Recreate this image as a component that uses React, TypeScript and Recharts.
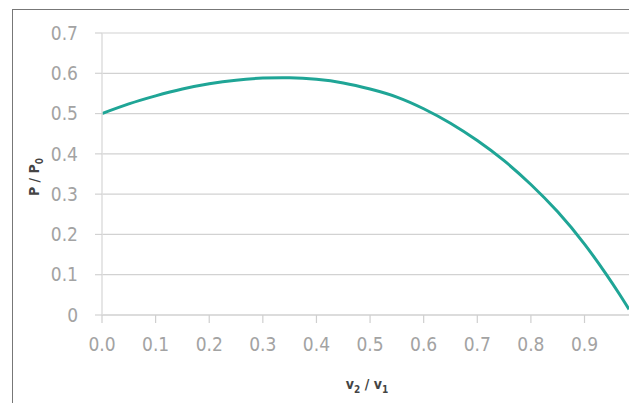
import React from 'react';
import { LineChart, Line, XAxis, YAxis, CartesianGrid } from 'recharts';

const speedRatio = [0, 0.05, 0.1, 0.15, 0.2, 0.25, 0.3, 0.35, 0.4, 0.45, 0.5, 0.55, 0.6, 0.65, 0.7, 0.75, 0.8, 0.85, 0.9, 0.94, 0.965, 0.983];
const powerRatio = [0.5, 0.524, 0.544, 0.561, 0.574, 0.583, 0.588, 0.589, 0.585, 0.576, 0.561, 0.541, 0.512, 0.476, 0.433, 0.383, 0.324, 0.256, 0.176, 0.102, 0.052, 0.014];
const xTicks = [0, 0.1, 0.2, 0.3, 0.4, 0.5, 0.6, 0.7, 0.8, 0.9];
const yTicks = [0, 0.1, 0.2, 0.3, 0.4, 0.5, 0.6, 0.7];

const data = speedRatio.map((x, i) => ({ x, p: powerRatio[i] }));

const fontStack = '"DejaVu Sans Condensed", "Liberation Sans Narrow", sans-serif';
const tickFont = { fontFamily: fontStack, fontSize: 19, fill: '#a3a3a3' };

const YLabel = () => (
  <text
    x={0}
    y={0}
    transform="translate(39,177) rotate(-90)"
    textAnchor="middle"
    fontFamily={fontStack}
    fontWeight="bold"
    fontSize={14}
    fill="#444"
  >
    P / P<tspan dy={4} fontSize={10}>0</tspan>
  </text>
);

const XLabel = () => (
  <text x={367} y={389} textAnchor="middle" fontFamily={fontStack} fontWeight="bold" fontSize={14} fill="#444">
    v<tspan dy={4} fontSize={10}>2</tspan>
    <tspan dy={-4}> / v</tspan>
    <tspan dy={4} fontSize={10}>1</tspan>
  </text>
);

export default function App() {
  return (
    <div style={{ position: 'absolute', left: 0, top: 0, width: 629, height: 403, background: '#fff' }}>
      <div
        style={{
          position: 'absolute',
          left: 12,
          top: 9,
          width: 640,
          height: 420,
          borderTop: '1.5px solid #777',
          borderLeft: '1.5px solid #777',
        }}
      />
      <div style={{ position: 'absolute', left: 0, top: 0 }}>
        <LineChart width={629} height={403} data={data} margin={{ top: 33, right: 0, bottom: 0, left: 0 }}>
          <CartesianGrid vertical={false} stroke="#d2d2d2" strokeWidth={1.2} />
          <XAxis
            type="number"
            dataKey="x"
            domain={[0, 0.983]}
            ticks={xTicks}
            allowDataOverflow
            tickFormatter={(v: number) => v.toFixed(1)}
            height={88}
            tick={tickFont}
            tickSize={8}
            tickMargin={15}
            axisLine={{ stroke: '#d9d9d9', strokeWidth: 1.5 }}
            tickLine={{ stroke: '#cfcfcf', strokeWidth: 1.2 }}
          />
          <YAxis
            type="number"
            domain={[0, 0.7]}
            ticks={yTicks}
            width={102}
            tickFormatter={(v: number) => (v === 0 ? '0' : v.toFixed(1))}
            tick={tickFont}
            tickSize={7}
            tickMargin={17}
            axisLine={{ stroke: '#dedede', strokeWidth: 1.5 }}
            tickLine={{ stroke: '#d2d2d2', strokeWidth: 1.2 }}
          />
          <Line
            type="natural"
            dataKey="p"
            stroke="#1fa596"
            strokeWidth={3}
            dot={false}
            isAnimationActive={false}
          />
          <YLabel />
          <XLabel />
        </LineChart>
      </div>
    </div>
  );
}
